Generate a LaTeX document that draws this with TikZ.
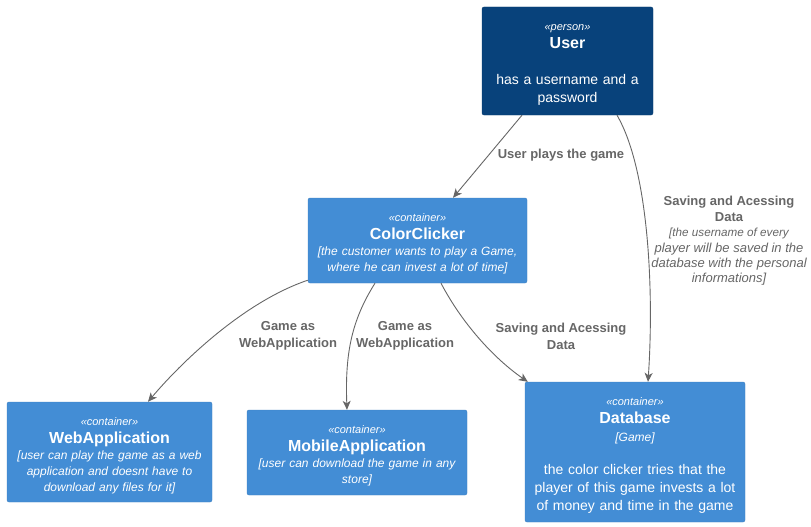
\documentclass[tikz,border=0pt]{standalone}
\usepackage{fontspec}
\setmainfont{Liberation Sans}
\usetikzlibrary{arrows.meta}
\definecolor{personblue}{HTML}{08427B}
\definecolor{personedge}{HTML}{073B6F}
\definecolor{contblue}{HTML}{438DD5}
\definecolor{contedge}{HTML}{3C7FC0}
\definecolor{relgray}{HTML}{666666}
\newcommand{\stereo}[1]{\rule{0pt}{14pt}{\fontsize{11}{13}\selectfont\itshape «#1»}}
\newcommand{\boxname}[1]{{\fontsize{16}{18}\selectfont\bfseries #1}}
\newcommand{\techline}[1]{{\fontsize{12}{14}\selectfont\itshape #1}}
\tikzset{
	personbox/.style={draw=personedge, fill=personblue, text=white, rounded corners=2pt, align=center, inner sep=0pt, font=\fontsize{14}{18}\selectfont},
	contbox/.style={draw=contedge, fill=contblue, text=white, rounded corners=2pt, align=center, inner sep=0pt, font=\fontsize{12}{16}\selectfont},
	rel/.style={draw=relgray, line width=0.9pt, -{Stealth[length=9pt,width=8pt,inset=2.5pt]}},
	rellabel/.style={text=relgray, align=center, inner sep=0pt, font=\fontsize{13}{17}\selectfont\bfseries}
}

\begin{document}
\begin{tikzpicture}[x=1pt, y=-1pt]
		%%%%% START %%%%%
		\useasboundingbox (0,0) rectangle (811,527);
		
		\node[personbox, minimum width=171, minimum height=108, text width=165] (user) at (567.5, 61)
			{\stereo{person}\\ \boxname{User}\\[18pt] has a username and a\\ password};
		
		\node[contbox, minimum width=219, minimum height=85, text width=210] (colorclicker) at (417.5, 240.5)
			{\stereo{container}\\[2pt] \boxname{ColorClicker}\\ \itshape [the customer wants to play a Game,\\ \itshape where he can invest a lot of time]};
		
		\node[contbox, minimum width=205, minimum height=100, text width=198] (webapp) at (109.5, 452)
			{\rule{0pt}{16pt}\stereo{container}\\[2pt] \boxname{WebApplication}\\ \itshape [user can play the game as a web\\ \itshape application and doesnt have to\\ \itshape download any files for it]};
		
		\node[contbox, minimum width=220, minimum height=85, text width=212] (mobileapp) at (357, 452.5)
			{\stereo{container}\\[2pt] \boxname{MobileApplication}\\ \itshape [user can download the game in any\\ \itshape store]};
		
		\node[contbox, minimum width=220, minimum height=140, text width=212, font=\fontsize{14}{18}\selectfont] (database) at (635, 452)
			{\stereo{container}\\ \boxname{Database}\\ \techline{[Game]}\\[15pt] the color clicker tries that the\\ player of this game invests a lot\\ of money and time in the game};
		
		% relations
		\draw[rel] ([xshift=-45.5pt]user.south) -- ([xshift=35.5pt]colorclicker.north);
		\node[rellabel] (lblplays) at (561, 155) {User plays the game};
		
		\draw[rel] ([xshift=49.5pt]user.south) .. controls +(32,55) and +(6,-90) .. ([xshift=13pt]database.north);
		\node[rellabel, font=\fontsize{13}{15.4}\selectfont\bfseries] (lblsave) at (729, 241)
			{Saving and Acessing\\ Data\\ \fontsize{11.7}{15.4}\selectfont\mdseries\itshape [the username of every\\ \mdseries\itshape player will be saved in the\\ \mdseries\itshape database with the personal\\ \mdseries\itshape informations]};
		
		\draw[rel] ([yshift=3pt]colorclicker.south west) .. controls +(-65,22) and +(32,-38) .. ([xshift=38.5pt]webapp.north);
		\node[rellabel] (lblweb) at (288, 336) {Game as\\ WebApplication};
		
		\draw[rel] ([xshift=-42.5pt]colorclicker.south) .. controls +(-24,38) and +(-2,-55) .. ([xshift=-10pt]mobileapp.north);
		\node[rellabel] (lblmobile) at (405, 336) {Game as\\ WebApplication};
		
		\draw[rel] ([xshift=23.5pt]colorclicker.south) .. controls +(22,42) and +(-32,-22) .. ([xshift=3pt]database.north west);
		\node[rellabel] (lbldata) at (561, 336) {Saving and Acessing\\ Data};
		
		%%%%% END %%%%%
	\end{tikzpicture}
\end{document}
